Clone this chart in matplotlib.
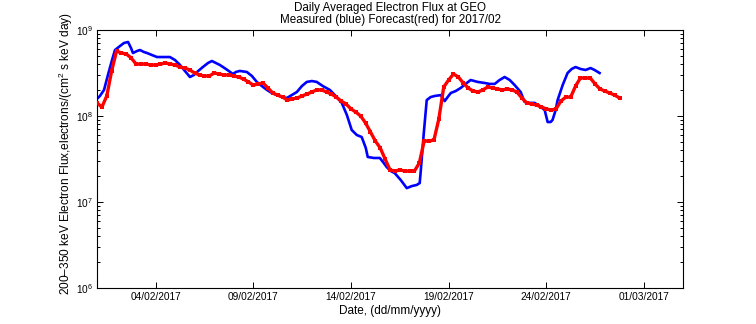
import matplotlib
matplotlib.use("Agg")
import matplotlib.pyplot as plt
import matplotlib.dates as mdates
import numpy as np
import pandas as pd

# Measured flux (blue): days after 2017-02-01 00:00 and flux values
blue_days = [0.00, 0.15, 0.36, 0.56, 0.77, 0.92, 1.18, 1.38, 1.59, 1.74, 1.84, 2.05,
             2.20, 2.40, 2.56, 2.81, 3.07, 3.38, 3.73, 3.99, 4.25, 4.50, 4.76, 4.96,
             5.12, 5.42, 5.68, 5.88, 6.09, 6.29, 6.60, 6.96, 7.11, 7.31, 7.67, 7.93,
             8.18, 8.44, 8.70, 8.95, 9.21, 9.51, 9.72, 9.97, 10.23, 10.49, 10.74, 11.00,
             11.25, 11.56, 11.92, 12.22, 12.53, 12.79, 13.04, 13.30, 13.55, 13.76, 13.86,
             14.17, 14.48, 14.68, 14.83, 15.04, 15.24, 15.55, 15.86, 16.11, 16.37, 16.52,
             16.57, 16.62, 16.73, 16.88, 17.08, 17.29, 17.60, 17.80, 17.95, 18.11, 18.36,
             18.62, 18.87, 19.13, 19.49, 19.85, 20.10, 20.36, 20.61, 20.87, 21.13, 21.38,
             21.69, 21.89, 22.15, 22.40, 22.66, 22.92, 23.07, 23.22, 23.32, 23.48, 23.58,
             23.84, 24.09, 24.30, 24.50, 24.76, 25.01, 25.27, 25.47, 25.73]
blue_flux = [1.58e8, 1.71e8, 2.01e8, 3.00e8, 4.48e8, 5.85e8, 6.52e8, 7.06e8, 7.25e8, 6.18e8, 5.40e8, 5.70e8,
             5.85e8, 5.55e8, 5.40e8, 5.12e8, 4.85e8, 4.85e8, 4.85e8, 4.48e8, 3.92e8, 3.34e8, 2.84e8, 3.00e8,
             3.25e8, 3.71e8, 4.13e8, 4.36e8, 4.13e8, 3.92e8, 3.52e8, 3.08e8, 3.25e8, 3.34e8, 3.25e8, 2.92e8,
             2.49e8, 2.23e8, 2.01e8, 1.85e8, 1.75e8, 1.66e8, 1.62e8, 1.75e8, 1.90e8, 2.23e8, 2.49e8, 2.55e8,
             2.49e8, 2.23e8, 2.01e8, 1.71e8, 1.42e8, 1.03e8, 6.87e7, 6.01e7, 5.70e7, 4.25e7, 3.34e7,
             3.25e7, 3.25e7, 2.84e7, 2.55e7, 2.29e7, 2.17e7, 1.80e7, 1.45e7, 1.53e7, 1.58e7, 1.66e7,
             2.23e7, 3.08e7, 6.34e7, 1.53e8, 1.66e8, 1.71e8, 1.75e8, 1.49e8, 1.66e8, 1.85e8, 1.95e8,
             2.12e8, 2.36e8, 2.62e8, 2.49e8, 2.42e8, 2.36e8, 2.36e8, 2.62e8, 2.84e8, 2.62e8, 2.29e8,
             1.90e8, 1.46e8, 1.42e8, 1.42e8, 1.31e8, 1.17e8, 8.51e7, 8.51e7, 8.98e7, 1.17e8, 1.53e8,
             2.29e8, 3.16e8, 3.52e8, 3.71e8, 3.52e8, 3.43e8, 3.61e8, 3.43e8, 3.16e8]

# Forecast flux (red): 6-hourly values starting 2017-02-01 00:00
red_start = "2017-02-01 00:00"
red_step = "6h"
red_flux = [1.42e8, 1.27e8, 1.71e8, 3.34e8, 5.70e8, 5.40e8, 5.26e8, 4.73e8, 4.02e8, 4.02e8,
            4.02e8, 3.92e8, 3.92e8, 4.02e8, 4.13e8, 4.02e8, 3.92e8, 3.71e8, 3.61e8, 3.43e8,
            3.16e8, 3.00e8, 2.92e8, 2.92e8, 3.16e8, 3.08e8, 3.00e8, 3.00e8, 2.92e8, 2.84e8,
            2.69e8, 2.49e8, 2.29e8, 2.36e8, 2.42e8, 2.12e8, 1.85e8, 1.75e8, 1.66e8, 1.53e8,
            1.58e8, 1.62e8, 1.71e8, 1.80e8, 1.90e8, 2.01e8, 2.01e8, 1.90e8, 1.80e8, 1.66e8,
            1.49e8, 1.38e8, 1.21e8, 1.11e8, 1.00e8, 8.29e7, 6.52e7, 5.12e7, 4.25e7, 3.16e7,
            2.36e7, 2.29e7, 2.36e7, 2.29e7, 2.29e7, 2.29e7, 2.84e7, 5.12e7, 5.12e7, 5.26e7,
            9.23e7, 2.17e8, 2.62e8, 3.08e8, 2.84e8, 2.42e8, 2.12e8, 1.95e8, 1.90e8, 2.01e8,
            2.17e8, 2.12e8, 2.06e8, 2.01e8, 2.06e8, 2.01e8, 1.90e8, 1.62e8, 1.42e8, 1.38e8,
            1.34e8, 1.27e8, 1.21e8, 1.17e8, 1.21e8, 1.49e8, 1.66e8, 1.66e8, 2.23e8, 2.77e8,
            2.77e8, 2.77e8, 2.36e8, 2.06e8, 1.95e8, 1.85e8, 1.75e8, 1.62e8]

tick_dates = ["2017-02-04", "2017-02-09", "2017-02-14", "2017-02-19", "2017-02-24", "2017-03-01"]
x_range = ["2017-02-01", "2017-03-03"]

plt.rcParams['font.family'] = ['Liberation Sans', 'DejaVu Sans']
plt.rcParams['mathtext.fontset'] = 'custom'
plt.rcParams['mathtext.rm'] = 'Liberation Sans'
plt.rcParams['mathtext.it'] = 'Liberation Sans'

base = pd.Timestamp("2017-02-01")
blue_t = base + pd.to_timedelta(np.array(blue_days), unit="D")
red_t = pd.date_range(red_start, periods=len(red_flux), freq=red_step)

fig = plt.figure(figsize=(7.56, 3.24), dpi=100)
ax = fig.add_axes([97 / 756, 36 / 324, 586 / 756, 258 / 324])

ax.plot(blue_t, blue_flux, color='#0000ff', linewidth=1.9, zorder=2)
# forecast drawn as a thick dotted trace
ax.plot(red_t, red_flux, linestyle='-', linewidth=2.4, marker='s', markersize=2.4,
        markeredgewidth=0, color='#ff0000', zorder=3)

ax.set_yscale('log')
ax.set_ylim(1e6, 1e9)
ax.set_xlim(pd.Timestamp(x_range[0]), pd.Timestamp(x_range[1]))
ax.set_xticks([pd.Timestamp(d) for d in tick_dates])
ax.xaxis.set_major_formatter(mdates.DateFormatter('%d/%m/%Y'))

ax.tick_params(which='both', direction='in', top=True, right=True, labelsize=7.3, pad=3)
ax.tick_params(which='major', length=4.5, width=0.7)
ax.tick_params(which='minor', length=2.3, width=0.7)
ax.tick_params(axis='x', which='minor', top=False, bottom=False)
for s in ax.spines.values():
    s.set_linewidth(0.8)

ax.set_title("Daily Averaged Electron Flux at GEO\nMeasured (blue) Forecast(red) for 2017/02",
             fontsize=8.4, pad=5, linespacing=1.05)
ax.set_xlabel("Date, (dd/mm/yyyy)", fontsize=8.5, labelpad=2)
ax.set_ylabel("200\u2013350 keV Electron Flux,electrons/(cm$^2$ s keV day)", fontsize=8.6)
ax.yaxis.set_label_coords(-0.037, 0.52)

fig.savefig("out.png", dpi=100)
